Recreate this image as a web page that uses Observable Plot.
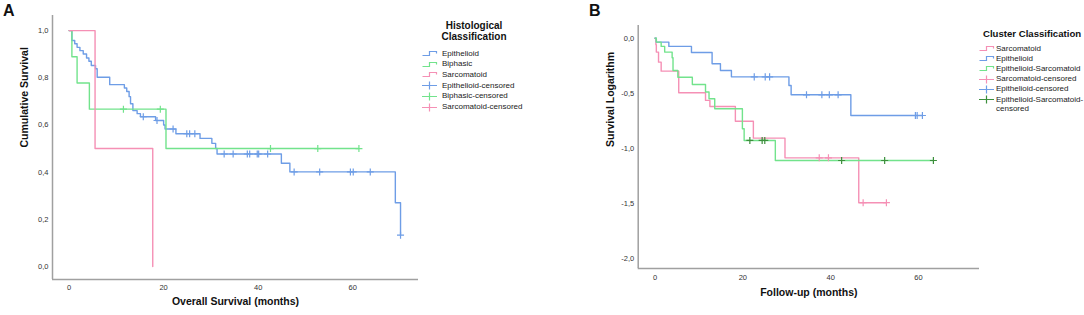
<!DOCTYPE html>
<html>
<head>
<meta charset="utf-8">
<script src="https://cdn.jsdelivr.net/npm/d3@7"></script>
<script src="https://cdn.jsdelivr.net/npm/@observablehq/plot@0.6"></script>
<style>
  body { margin: 0; background: #fff; font-family: "Liberation Sans", Arial, sans-serif; }
  #root { position: relative; width: 1084px; height: 315px; overflow: hidden; background: #fff; }
  .panel { position: absolute; top: 0; }
  .plabel { position: absolute; font-weight: bold; font-size: 16px; line-height: 16px; color: #111; }
  .lgtitle { position: absolute; font-weight: bold; font-size: 10px; line-height: 11px; color: #111; text-align: center; }
  .lgitem { position: absolute; font-size: 8px; line-height: 9px; color: #222; white-space: nowrap; }
  .lgitem svg { position: absolute; left: 0; top: 0.5px; }
  .lgitem span { position: absolute; }
</style>
</head>
<body>
<div id="root"></div>
<script>
// ---------- shared ticks ----------
const xTicks = [0, 20, 40, 60];
const yTicksA = [0, 0.2, 0.4, 0.6, 0.8, 1.0];
const yTicksB = [-2, -1.5, -1, -0.5, 0];

// ---------- Panel A: Histological Classification (cumulative survival) ----------
const groupsA = ["Epithelioid", "Biphasic", "Sarcomatoid"];
const epiA_time = [0, 0.6, 1.2, 1.7, 2.3, 3.0, 3.7, 4.2, 4.7, 5.6, 5.95, 8.6, 11.7, 12.2, 12.7, 13.0, 13.5, 14.4, 15.1, 18.3, 20.0, 20.3, 22.6, 27.7, 30.2, 31.0, 31.3, 44.9, 46.7, 69.0, 70.1];
const epiA_surv = [1, 0.958, 0.944, 0.929, 0.915, 0.901, 0.884, 0.870, 0.852, 0.838, 0.802, 0.771, 0.757, 0.742, 0.720, 0.690, 0.661, 0.648, 0.635, 0.619, 0.600, 0.583, 0.563, 0.543, 0.522, 0.500, 0.477, 0.438, 0.401, 0.270, 0.133];
const epiA_cens = [15.7, 18.6, 22.0, 24.9, 25.5, 26.6, 32.8, 34.7, 37.7, 38.2, 39.8, 40.1, 42.0, 47.6, 53.0, 59.5, 60.1, 63.7, 70.1];
const biA_time = [0, 0.6, 1.7, 4.3, 20.5, 61.3];
const biA_surv = [1, 0.889, 0.778, 0.667, 0.5, 0.5];
const biA_cens = [11.5, 19.3, 42.6, 52.6, 61.3];
const sarA_time = [0, 5.5, 17.7];
const sarA_surv = [1, 0.5, 0];
const sarA_cens = [];

// ---------- Panel B: Cluster Classification (survival logarithm) ----------
const groupsB = ["Sarcomatoid", "Epithelioid", "Epithelioid-Sarcomatoid"];
const sarB_time = [0, 0.2, 0.3, 0.8, 1.4, 5.4, 11.5, 12.5, 18.3, 22.4, 29.6, 46.4, 52.7];
const sarB_log = [0, -0.06, -0.127, -0.218, -0.30, -0.497, -0.566, -0.621, -0.755, -0.909, -1.088, -1.496, -1.496];
const sarB_cens = [37.4, 39.5, 47.4, 52.7];
const epiB_time = [0, 0.3, 3.15, 8.3, 13.0, 14.9, 17.4, 30.5, 31.0, 44.6, 60.9];
const epiB_log = [0, -0.036, -0.075, -0.13, -0.233, -0.294, -0.352, -0.43, -0.515, -0.703, -0.703];
const epiB_cens = [22.6, 25.1, 26.1, 34.5, 38.0, 39.7, 41.7, 59.3, 59.7, 60.9];
const esB_time = [0, 0.3, 1.4, 2.2, 3.9, 4.1, 5.2, 8.5, 11.5, 12.3, 13.6, 19.9, 20.3, 27.4, 63.4];
const esB_log = [0, -0.036, -0.075, -0.127, -0.178, -0.294, -0.355, -0.421, -0.49, -0.551, -0.642, -0.824, -0.93, -1.112, -1.112];
const esB_cens = [21.6, 24.4, 25.0, 42.5, 52.3, 63.4];

// ---------- text ----------
const titleA = "Histological Classification";
const titleB = "Cluster Classification";
const xLabelA = "Overall Survival (months)";
const yLabelA = "Cumulative Survival";
const xLabelB = "Follow-up (months)";
const yLabelB = "Survival Logarithm";

// ---------- colours ----------
const BLUE = "#6e9de6", GREEN = "#72e38c", PINK = "#f590b5", DKGREEN = "#3c8f3c";

// ---------- helpers ----------
function curve(group, times, vals) {
  return times.map((t, i) => ({group, t, v: vals[i]}));
}
function cens(group, times, vals, ctimes) {
  return ctimes.map(c => {
    let idx = 0;
    for (let i = 0; i < times.length; i++) if (times[i] <= c) idx = i;
    return {group, t: c, v: vals[idx]};
  });
}
const comma = d => d.toFixed(1).replace(".", ",");
const FONT = '"Liberation Sans", Arial, sans-serif';

function panel({width, marginLeft, marginRight, marginTop, marginBottom, xDomain, yDomain, yTicks, series, xLabel, yLabel, xPad, xLabelDy}) {
  const marks = [
    Plot.ruleX([xDomain[0]], {stroke: "#a0a0a0", strokeWidth: 1.5}),
    Plot.ruleY([yDomain[0]], {stroke: "#a0a0a0", strokeWidth: 1.5}),
    Plot.axisX({ticks: xTicks, tickSize: 0, tickPadding: xPad, tickFormat: d => String(d), label: null, fill: "#333"}),
    Plot.axisY({ticks: yTicks, tickSize: 0, tickPadding: 4, tickFormat: comma, label: null, fill: "#333"})
  ];
  for (const s of series) {
    marks.push(Plot.line(s.curve, {x: "t", y: "v", stroke: s.color, strokeWidth: 1.4, curve: "step-after"}));
  }
  for (const s of series) {
    marks.push(Plot.dot(s.cens, {x: "t", y: "v", stroke: s.censColor, symbol: "plus", r: 2.4, strokeWidth: 1.2}));
  }
  marks.push(Plot.text([xLabel], {frameAnchor: "bottom", dy: xLabelDy, fontWeight: "bold", fontSize: 10.5, fill: "#111"}));
  marks.push(Plot.text([yLabel], {frameAnchor: "left", dx: -28, rotate: -90, fontWeight: "bold", fontSize: 10.5, fill: "#111"}));
  return Plot.plot({
    width, height: 315, marginLeft, marginRight, marginTop, marginBottom,
    x: {domain: xDomain},
    y: {domain: yDomain},
    style: {fontFamily: FONT, fontSize: "7.5px", background: "transparent", overflow: "visible"},
    marks
  });
}

const root = document.getElementById("root");

// Panel A
const svgA = panel({
  width: 421, marginLeft: 52, marginRight: 3, marginTop: 15, marginBottom: 36,
  xDomain: [-3.5, 73.9], yDomain: [-0.055, 1.064], yTicks: yTicksA,
  series: [
    {curve: curve(groupsA[0], epiA_time, epiA_surv), cens: cens(groupsA[0], epiA_time, epiA_surv, epiA_cens), color: BLUE, censColor: BLUE},
    {curve: curve(groupsA[1], biA_time, biA_surv), cens: cens(groupsA[1], biA_time, biA_surv, biA_cens), color: GREEN, censColor: GREEN},
    {curve: curve(groupsA[2], sarA_time, sarA_surv), cens: cens(groupsA[2], sarA_time, sarA_surv, sarA_cens), color: PINK, censColor: PINK}
  ],
  xLabel: xLabelA, yLabel: yLabelA, xPad: 5, xLabelDy: 25
});
svgA.classList.add("panel");
svgA.style.left = "0px";
root.appendChild(svgA);

// Panel B
const svgB = panel({
  width: 402, marginLeft: 57.7, marginRight: 3, marginTop: 25, marginBottom: 47,
  xDomain: [-3.83, 73.9], yDomain: [-2.094, 0.115], yTicks: yTicksB,
  series: [
    {curve: curve(groupsB[0], sarB_time, sarB_log), cens: cens(groupsB[0], sarB_time, sarB_log, sarB_cens), color: PINK, censColor: PINK},
    {curve: curve(groupsB[1], epiB_time, epiB_log), cens: cens(groupsB[1], epiB_time, epiB_log, epiB_cens), color: BLUE, censColor: BLUE},
    {curve: curve(groupsB[2], esB_time, esB_log), cens: cens(groupsB[2], esB_time, esB_log, esB_cens), color: GREEN, censColor: DKGREEN}
  ],
  xLabel: xLabelB, yLabel: yLabelB, xPad: 6, xLabelDy: 27
});
svgB.classList.add("panel");
svgB.style.left = "580px";
root.appendChild(svgB);

// Panel letters
function addDiv(cls, text, left, top, extra) {
  const d = document.createElement("div");
  d.className = cls;
  d.textContent = text;
  d.style.left = left + "px";
  d.style.top = top + "px";
  if (extra) Object.assign(d.style, extra);
  root.appendChild(d);
  return d;
}
addDiv("plabel", "A", 3, 3);
addDiv("plabel", "B", 589, 3);

// Legends
function legendItem(kind, color, label, left, top, textLeft) {
  const d = document.createElement("div");
  d.className = "lgitem";
  d.style.left = left + "px";
  d.style.top = top + "px";
  const ns = "http://www.w3.org/2000/svg";
  const svg = document.createElementNS(ns, "svg");
  svg.setAttribute("width", 16); svg.setAttribute("height", 9);
  const p = document.createElementNS(ns, "path");
  if (kind === "line") p.setAttribute("d", "M0.5,6.5H7.5V2.5H14.5V4.5");
  else p.setAttribute("d", "M0,4.5H15M7.5,0.5V8.5");
  p.setAttribute("fill", "none");
  p.setAttribute("stroke", color);
  p.setAttribute("stroke-width", "1.2");
  svg.appendChild(p);
  d.appendChild(svg);
  const s = document.createElement("span");
  s.style.left = textLeft + "px";
  s.style.top = "0px";
  s.innerHTML = label;
  d.appendChild(s);
  root.appendChild(d);
}
const lgA = addDiv("lgtitle", "", 424, 20, {width: "100px"});
lgA.innerHTML = titleA.replace(" ", "<br>");
const itemsA = [
  ["line", BLUE, groupsA[0]], ["line", GREEN, groupsA[1]], ["line", PINK, groupsA[2]],
  ["plus", BLUE, groupsA[0] + "-censored"], ["plus", GREEN, groupsA[1] + "-censored"], ["plus", PINK, groupsA[2] + "-censored"]
];
itemsA.forEach((it, i) => legendItem(it[0], it[1], it[2], 422, 48.5 + i * 10.7, 20));

addDiv("lgtitle", titleB, 983, 28, {whiteSpace: "nowrap", textAlign: "left", fontSize: "9.6px"});
const itemsB = [
  ["line", PINK, groupsB[0]], ["line", BLUE, groupsB[1]], ["line", GREEN, groupsB[2]],
  ["plus", PINK, groupsB[0] + "-censored"], ["plus", BLUE, groupsB[1] + "-censored"], ["plus", DKGREEN, groupsB[2] + "-<br>censored"]
];
itemsB.forEach((it, i) => legendItem(it[0], it[1], it[2], 979, 43.5 + i * 10.2, 17));
</script>
</body>
</html>
